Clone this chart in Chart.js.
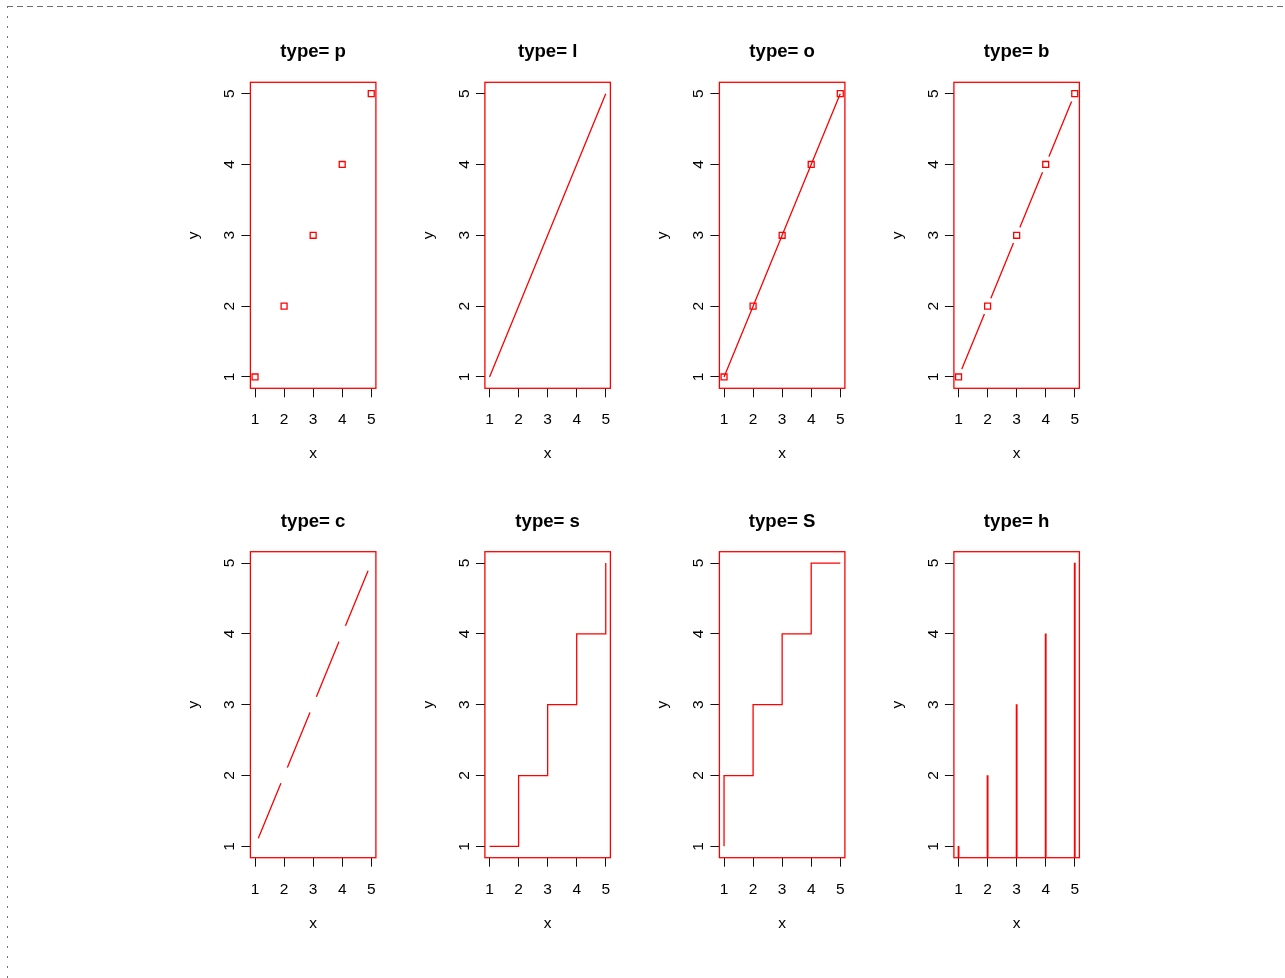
<!DOCTYPE html>
<html>
<head>
<meta charset="utf-8">
<script src="https://cdn.jsdelivr.net/npm/chart.js@4.4.1/dist/chart.umd.min.js"></script>
<style>
  html, body { margin: 0; padding: 0; background: #fff; }
  #page { position: relative; width: 1285px; height: 978px; overflow: hidden; background: #fff; }
  #frameTop { position: absolute; left: 7px; top: 6px; width: 1278px; height: 1px;
    background: repeating-linear-gradient(to right, #6e6e6e 0 6px, transparent 6px 10px); }
  #frameLeft { position: absolute; left: 7px; top: 6px; width: 1px; height: 972px;
    background: repeating-linear-gradient(to bottom, #6e6e6e 0 2px, transparent 2px 10px); }
  canvas { position: absolute; }
</style>
</head>
<body>
<div id="page">
  <div id="frameTop"></div>
  <div id="frameLeft"></div>
</div>
<script>
// Data shown in every panel
const xValues = [1, 2, 3, 4, 5];
const yValues = [1, 2, 3, 4, 5];
const plotTypes = ['p', 'l', 'o', 'b', 'c', 's', 'S', 'h'];
const tickValues = [1, 2, 3, 4, 5];
const tickLabels = ['1', '2', '3', '4', '5'];
const axisMin = 0.84, axisMax = 5.16;

// Panel geometry (plot box inside each panel)
const RED = '#ff0000';
const LINE_W = 1.3;
const BOX_W = 125.5, BOX_H = 306;
const COL0 = 250.4, COL_PITCH = 234.5;
const ROW0 = 82.3, ROW_PITCH = 469.4;
const CANVAS_W = 235, CANVAS_H = 469;
const FONT = "'Liberation Sans', Arial, Helvetica, sans-serif";

function points() {
  return xValues.map((x, i) => ({ x: x, y: yValues[i] }));
}

function lineSet(extra) {
  return Object.assign({
    type: 'line', data: points(), borderColor: RED, borderWidth: LINE_W,
    backgroundColor: 'transparent', pointRadius: 0, showLine: true, tension: 0, fill: false
  }, extra || {});
}
function pointSet(extra) {
  return Object.assign({
    type: 'line', data: points(), showLine: false, pointStyle: 'rect', pointRadius: 4.2,
    pointBorderColor: RED, pointBackgroundColor: 'transparent', pointBorderWidth: LINE_W,
    borderColor: RED, backgroundColor: 'transparent'
  }, extra || {});
}
// white discs that open the gaps around each point for types b and c
function gapSet() {
  return {
    type: 'line', data: points(), showLine: false, pointStyle: 'circle', pointRadius: 8.5,
    pointBorderWidth: 0, pointBackgroundColor: '#ffffff', pointBorderColor: '#ffffff',
    borderColor: 'transparent', backgroundColor: 'transparent'
  };
}

function datasetsFor(t) {
  switch (t) {
    case 'p': return [pointSet()];
    case 'l': return [lineSet()];
    case 'o': return [pointSet({ showLine: true, borderWidth: LINE_W })];
    case 'b': return [pointSet(), gapSet(), lineSet()];
    case 'c': return [gapSet(), lineSet()];
    case 's': return [lineSet({ stepped: 'before' })];
    case 'S': return [lineSet({ stepped: 'after' })];
    case 'h': return [{
      type: 'bar', data: points(), backgroundColor: RED, borderWidth: 0,
      barThickness: 1.2, grouped: false
    }];
  }
  return [];
}

const panelDecor = {
  id: 'panelDecor',
  afterDatasetsDraw(chart) {
    const a = chart.chartArea;
    const ctx = chart.ctx;
    ctx.save();
    ctx.strokeStyle = RED;
    ctx.lineWidth = LINE_W;
    ctx.strokeRect(a.left, a.top, a.right - a.left, a.bottom - a.top);
    ctx.restore();
  },
  afterDraw(chart, args, opts) {
    const a = chart.chartArea;
    const ctx = chart.ctx;
    const xs = chart.scales.x, ys = chart.scales.y;
    ctx.save();
    ctx.fillStyle = '#000';
    // title
    ctx.font = 'bold 18.6px ' + FONT;
    ctx.textAlign = 'center';
    ctx.textBaseline = 'alphabetic';
    ctx.fillText(opts.title, (a.left + a.right) / 2, a.top - 25);
    // x tick labels
    ctx.font = '15.5px ' + FONT;
    tickValues.forEach((v, i) => {
      ctx.fillText(tickLabels[i], xs.getPixelForValue(v), a.bottom + 35.8);
    });
    // x axis title
    ctx.fillText('x', (a.left + a.right) / 2, a.bottom + 70);
    // y tick labels, drawn along the axis
    tickValues.forEach((v, i) => {
      ctx.save();
      ctx.translate(a.left - 16, ys.getPixelForValue(v));
      ctx.rotate(-Math.PI / 2);
      ctx.fillText(tickLabels[i], 0, 0);
      ctx.restore();
    });
    // y axis title
    ctx.save();
    ctx.translate(a.left - 52.3, (a.top + a.bottom) / 2);
    ctx.rotate(-Math.PI / 2);
    ctx.fillText('y', 0, 0);
    ctx.restore();
    ctx.restore();
  }
};

function fixedTicks(scale) {
  scale.ticks = tickValues.map(v => ({ value: v }));
}

const page = document.getElementById('page');
plotTypes.forEach((t, i) => {
  const col = i % 4, row = Math.floor(i / 4);
  const bl = COL0 + COL_PITCH * col;
  const bt = ROW0 + ROW_PITCH * row;
  const cl = Math.floor(bl) - 100;
  const ct = Math.floor(bt) - 82;
  const canvas = document.createElement('canvas');
  canvas.width = CANVAS_W;
  canvas.height = CANVAS_H;
  canvas.style.left = cl + 'px';
  canvas.style.top = ct + 'px';
  canvas.style.width = CANVAS_W + 'px';
  canvas.style.height = CANVAS_H + 'px';
  page.appendChild(canvas);

  const padL = bl - cl, padT = bt - ct;
  const axisCommon = {
    type: 'linear', min: axisMin, max: axisMax, offset: false,
    afterBuildTicks: fixedTicks,
    ticks: { display: false },
    border: { display: false },
    grid: { offset: false, drawOnChartArea: false, drawTicks: true, tickLength: 9, color: '#111', lineWidth: 1 }
  };

  new Chart(canvas, {
    type: 'line',
    data: { datasets: datasetsFor(t) },
    options: {
      responsive: false,
      animation: false,
      events: [],
      devicePixelRatio: 1,
      layout: { padding: { left: padL, top: padT, right: CANVAS_W - padL - BOX_W, bottom: CANVAS_H - padT - BOX_H } },
      plugins: { legend: { display: false }, tooltip: { enabled: false }, title: { display: false },
        panelDecor: { title: 'type= ' + t } },
      scales: {
        x: Object.assign({}, axisCommon, { position: 'bottom', afterFit(s) { s.height = 0; } }),
        y: Object.assign({}, axisCommon, { position: 'left', afterFit(s) { s.width = 0; } })
      }
    },
    plugins: [panelDecor]
  });
});
</script>
</body>
</html>
